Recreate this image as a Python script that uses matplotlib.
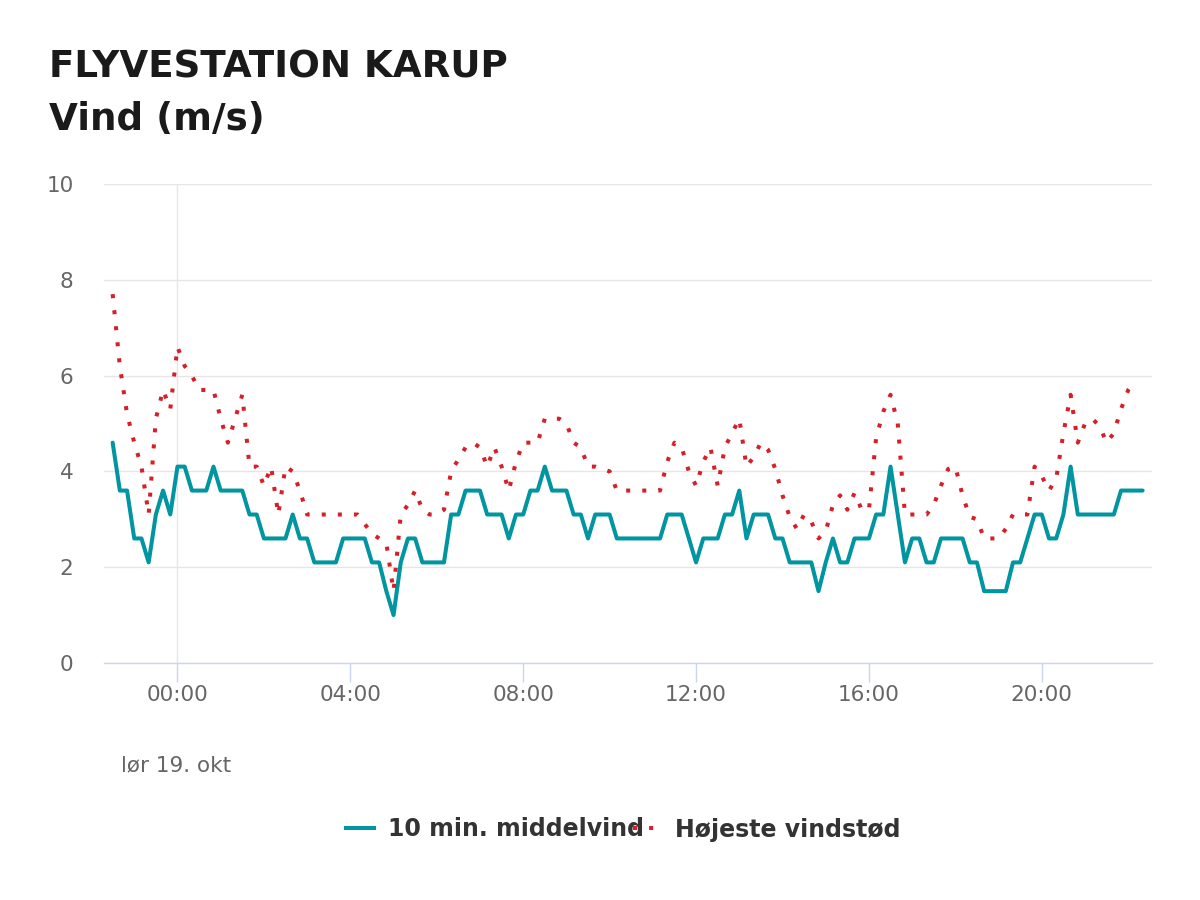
import matplotlib
matplotlib.use("Agg")
import matplotlib.pyplot as plt
import matplotlib.dates as mdates
from matplotlib.lines import Line2D
import pandas as pd

plt.rcParams["font.family"] = ["DejaVu Sans"]

# ---------------- data ----------------
start_time = "2024-10-18 22:30"
step = "10min"

mean_wind = [
    4.6, 3.6, 3.6, 2.6, 2.6, 2.1, 3.1, 3.6, 3.1,
    4.1, 4.1, 3.6, 3.6, 3.6, 4.1, 3.6, 3.6, 3.6, 3.6, 3.1, 3.1,
    2.6, 2.6, 2.6, 2.6, 3.1, 2.6, 2.6, 2.1, 2.1, 2.1, 2.1, 2.6,
    2.6, 2.6, 2.6, 2.1, 2.1, 1.5, 1.0, 2.1, 2.6, 2.6, 2.1, 2.1,
    2.1, 2.1, 3.1, 3.1, 3.6, 3.6, 3.6, 3.1, 3.1, 3.1, 2.6, 3.1,
    3.1, 3.6, 3.6, 4.1, 3.6, 3.6, 3.6, 3.1, 3.1, 2.6, 3.1, 3.1,
    3.1, 2.6, 2.6, 2.6, 2.6, 2.6, 2.6, 2.6, 3.1, 3.1, 3.1, 2.6,
    2.1, 2.6, 2.6, 2.6, 3.1, 3.1, 3.6, 2.6, 3.1, 3.1, 3.1, 2.6,
    2.6, 2.1, 2.1, 2.1, 2.1, 1.5, 2.1, 2.6, 2.1, 2.1, 2.6, 2.6,
    2.6, 3.1, 3.1, 4.1, 3.1, 2.1, 2.6, 2.6, 2.1, 2.1, 2.6, 2.6,
    2.6, 2.6, 2.1, 2.1, 1.5, 1.5, 1.5, 1.5, 2.1, 2.1, 2.6, 3.1,
    3.1, 2.6, 2.6, 3.1, 4.1, 3.1, 3.1, 3.1, 3.1, 3.1, 3.1, 3.6,
    3.6, 3.6, 3.6,
]

gust = [
    7.7, 6.2, 5.2, 4.6, 4.1, 3.1, 5.1, 5.7, 5.3,
    6.6, 6.2, 6.0, 5.7, 5.7, 5.7, 5.1, 4.6, 5.1, 5.6, 4.1, 4.1,
    3.7, 4.1, 3.1, 4.1, 4.0, 3.6, 3.1, 3.1, 3.1, 3.1, 3.1, 3.1,
    3.1, 3.1, 2.9, 2.7, 2.6, 2.5, 1.5, 3.1, 3.3, 3.6, 3.2, 3.1,
    3.1, 3.2, 4.0, 4.25, 4.5, 4.6, 4.5, 4.1, 4.5, 4.1, 3.6, 4.2,
    4.6, 4.6, 4.6, 5.1, 5.1, 5.1, 5.0, 4.6, 4.5, 4.1, 4.1, 4.05,
    4.0, 3.6, 3.6, 3.6, 3.6, 3.6, 3.6, 3.6, 4.2, 4.6, 4.5, 4.0,
    3.7, 4.2, 4.5, 3.7, 4.5, 4.8, 5.1, 4.1, 4.3, 4.6, 4.45, 4.05,
    3.5, 3.05, 2.8, 3.1, 2.95, 2.6, 2.75, 3.3, 3.5, 3.2, 3.55, 3.2,
    3.2, 4.7, 5.25, 5.6, 5.0, 3.1, 3.1, 3.1, 3.1, 3.3, 3.7, 4.05,
    4.1, 3.5, 3.05, 3.0, 2.6, 2.6, 2.6, 2.8, 3.1, 3.1, 3.1, 4.1,
    3.9, 3.6, 3.85, 4.8, 5.6, 4.6, 5.0, 5.1, 4.95, 4.6, 4.8, 5.3,
    5.7, 5.9,
]

series_names = ["10 min. middelvind", "Højeste vindstød"]
title_lines = ["FLYVESTATION KARUP", "Vind (m/s)"]
date_label = "lør 19. okt"
y_ticks = [0, 2, 4, 6, 8, 10]

times = pd.date_range(start_time, periods=len(mean_wind), freq=step)
gust_times = times[:len(gust)]

# ---------------- style ----------------
TEAL = "#0095a0"
RED = "#d61f28"
GRID = "#e6e6e6"
AXIS = "#ccd6eb"
LABEL = "#666666"

W, H = 1200, 900
fig = plt.figure(figsize=(12, 9), dpi=100)
fig.patch.set_facecolor("white")

ax = fig.add_axes([104 / W, 1 - 663 / H, (1152 - 104) / W, (663 - 184) / H])

ax.plot(times, mean_wind, color=TEAL, lw=2.9, solid_joinstyle="round",
        solid_capstyle="round", zorder=3)
ax.plot(gust_times, gust, color=RED, lw=2.9, linestyle=(0, (1, 3)),
        dash_capstyle="butt", zorder=4)

ax.set_ylim(0, 10)
ax.set_xlim(pd.Timestamp("2024-10-18 22:18"), pd.Timestamp("2024-10-19 22:33"))
ax.set_yticks(y_ticks)
ax.yaxis.grid(True, color=GRID, lw=1.0)
ax.set_axisbelow(True)

ax.xaxis.set_major_locator(mdates.HourLocator(byhour=range(0, 24, 4)))
ax.xaxis.set_major_formatter(mdates.DateFormatter("%H:%M"))

# midnight day-break line
ax.axvline(pd.Timestamp("2024-10-19 00:00"), color=GRID, lw=1.0, zorder=1)

for s in ["top", "right", "left"]:
    ax.spines[s].set_visible(False)
ax.spines["bottom"].set_color(AXIS)
ax.spines["bottom"].set_linewidth(1.0)

ax.tick_params(axis="y", length=0, pad=22, labelsize=15.5, labelcolor=LABEL)
ax.tick_params(axis="x", length=13.7, width=1.0, color=AXIS, pad=2,
               labelsize=15.5, labelcolor=LABEL)
for lab in ax.get_yticklabels():
    lab.set_verticalalignment("center_baseline")

# ---------------- titles ----------------
fig.text(49 / W, 1 - 77 / H, title_lines[0], fontsize=26.8, fontweight="bold",
         color="#1a1a1a", va="baseline", ha="left")
fig.text(49 / W, 1 - 130 / H, title_lines[1], fontsize=26.8, fontweight="bold",
         color="#1a1a1a", va="baseline", ha="left")

fig.text(121 / W, 1 - 771 / H, date_label, fontsize=15.5, color=LABEL,
         va="baseline", ha="left")

# ---------------- legend ----------------
ly = 1 - 828 / H
fig.add_artist(Line2D([344 / W, 376 / W], [ly, ly], transform=fig.transFigure,
                      color=TEAL, lw=2.9, solid_capstyle="butt"))
fig.text(388 / W, 1 - 836.5 / H, series_names[0], fontsize=17,
         fontweight="bold", color="#333333", va="baseline", ha="left")
fig.add_artist(Line2D([633 / W, 655 / W], [ly, ly], transform=fig.transFigure,
                      color=RED, lw=2.9, linestyle=(0, (1, 3)),
                      dash_capstyle="butt", zorder=5))
fig.text(675 / W, 1 - 836.5 / H, series_names[1], fontsize=17,
         fontweight="bold", color="#333333", va="baseline", ha="left")

fig.savefig("out.png", dpi=100, facecolor="white")
